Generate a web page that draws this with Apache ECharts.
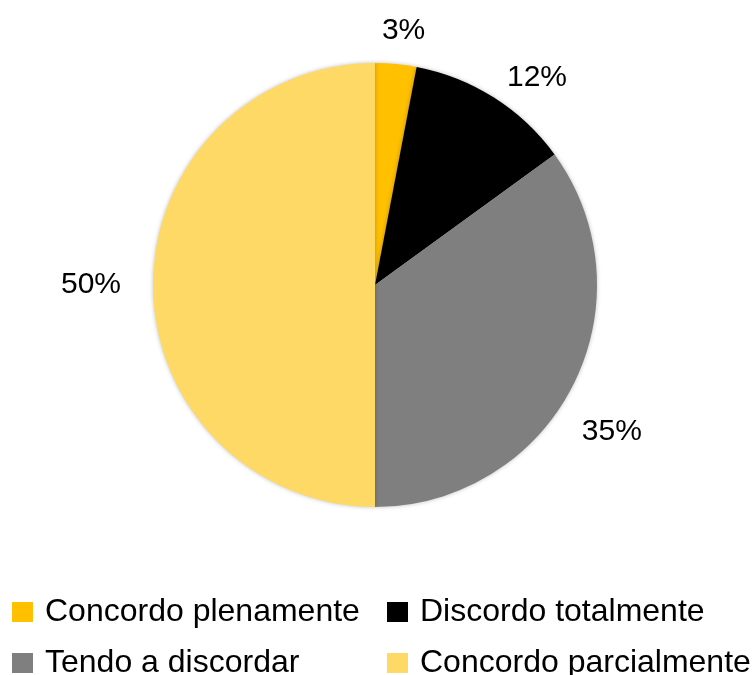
<!DOCTYPE html>
<html>
<head>
<meta charset="utf-8">
<script src="https://cdn.jsdelivr.net/npm/echarts@6/dist/echarts.min.js"></script>
<style>
  html, body { margin: 0; padding: 0; background: #ffffff; }
  #chart { width: 755px; height: 675px; }
</style>
</head>
<body>
<div id="chart"></div>
<script>
// Answers, clockwise from 12 o'clock
var categories = ['Concordo plenamente', 'Discordo totalmente', 'Tendo a discordar', 'Concordo parcialmente'];
var shares = [3, 12, 35, 50];
var sliceColors = ['#FFC000', '#000000', '#7F7F7F', '#FFD966'];
// Nudges for the outside percentage labels
var labelOffsets = [[-19, -33], [8, -20], [4, 46], [-27, 0]];

var FONT = '"Liberation Sans", Arial, sans-serif';

var pieData = categories.map(function (name, i) {
  return {
    name: name,
    value: shares[i],
    itemStyle: { color: sliceColors[i] },
    label: { offset: labelOffsets[i] }
  };
});

var legendText = { fontFamily: FONT, fontSize: 32, color: '#000000', lineHeight: 30, padding: [0, 0, 0, 7] };

function legendColumn(left, names) {
  return {
    orient: 'vertical', left: left, top: 596, height: 90, padding: 0,
    itemWidth: 21, itemHeight: 20, itemGap: 19,
    icon: 'rect', selectedMode: false,
    data: names,
    textStyle: legendText
  };
}

var chart = echarts.init(document.getElementById('chart'), null, { renderer: 'canvas' });
chart.setOption({
  animation: false,
  backgroundColor: '#ffffff',
  legend: [
    legendColumn(12, [categories[0], categories[2]]),
    legendColumn(387, [categories[1], categories[3]])
  ],
  series: [{
    type: 'pie',
    center: [375, 285],
    radius: 222,
    startAngle: 90,
    clockwise: true,
    avoidLabelOverlap: false,
    itemStyle: { borderWidth: 0, shadowBlur: 4, shadowColor: 'rgba(0,0,0,0.25)' },
    label: {
      show: true,
      position: 'outside',
      formatter: '{c}%',
      fontFamily: FONT,
      fontSize: 30,
      color: '#000000'
    },
    labelLine: { show: false, length: 0, length2: 0 },
    emphasis: { disabled: true },
    data: pieData
  }]
});
</script>
</body>
</html>
